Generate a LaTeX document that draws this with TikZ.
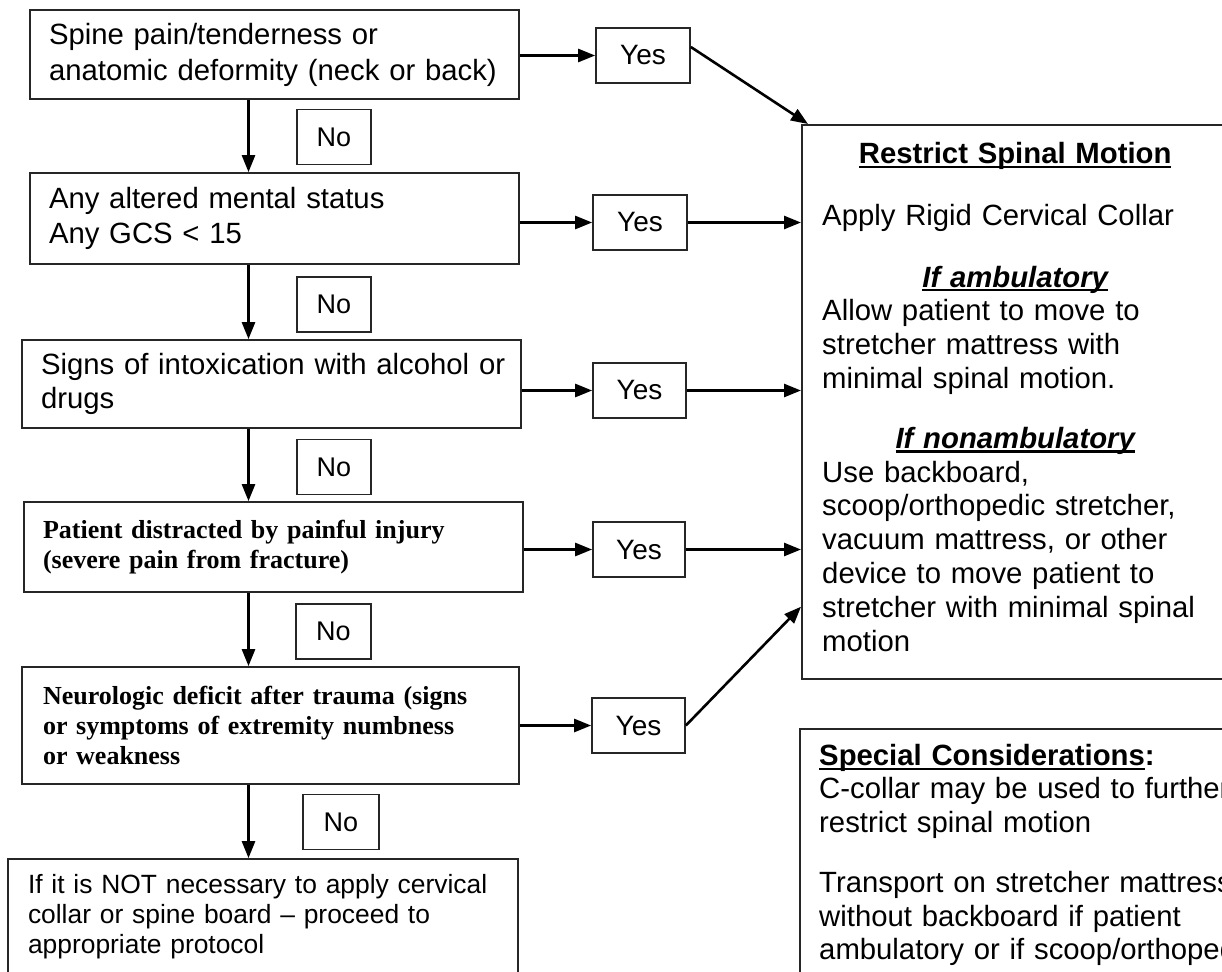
\documentclass[tikz,border=0pt]{standalone}
\usepackage{fontspec}
\setmainfont{Liberation Sans}
\newfontfamily\tnr{Liberation Serif}
\usetikzlibrary{arrows.meta}
\newcommand\myul[1]{\setbox0\hbox{#1}\rlap{\rule[-0.15em]{\wd0}{0.075em}}\box0}
\begin{document}
\begin{tikzpicture}[x=1pt,y=-1pt,
  box/.style={draw=black!85,line width=1.7pt,inner sep=0pt,align=left},
  yn/.style={draw=black!85,line width=1.7pt,inner sep=0pt,minimum height=55pt,font=\fontsize{28}{32}\selectfont},
  arr/.style={line width=2.6pt,-{Triangle[length=17pt,width=13pt]}},
  arial/.style={font=\fontsize{29.3}{34.5}\selectfont},
  times/.style={font=\tnr\bfseries\fontsize{26}{29.5}\selectfont},
  txt/.style={inner sep=0pt,align=left,anchor=north west}
]
\useasboundingbox (0,0) rectangle (1222,971);
\fill[white] (0,0) rectangle (1222,971);
\clip (0,0) rectangle (1222,971);

% left column boxes
\node[box,font=\fontsize{29.3}{36}\selectfont,minimum width=489pt,minimum height=89pt,text width=451pt] (box1) at (274.5,54.5)
  {\mbox{Spine pain/tenderness or}\\\mbox{anatomic deformity (neck or back)}};
\node[box,arial,minimum width=489pt,minimum height=91pt,text width=451pt] (box2) at (274.5,218.5)
  {\mbox{Any altered mental status}\\\mbox{Any GCS < 15}};
\node[box,arial,minimum width=499pt,minimum height=88pt,text width=461pt] (box3) at (271.5,384)
  {\mbox{Signs of intoxication with alcohol or}\\\mbox{drugs}};
\node[box,times,minimum width=499pt,minimum height=90pt,text width=461pt] (box4) at (273.5,547)
  {\mbox{Patient distracted by painful injury}\\\mbox{(severe pain from fracture)}};
\node[box,times,font=\tnr\bfseries\fontsize{26}{30}\selectfont,minimum width=497pt,minimum height=117pt,text width=455pt] (box5) at (270.5,725.5)
  {\mbox{Neurologic deficit after trauma (signs}\\\mbox{or symptoms of extremity numbness}\\\mbox{or weakness}};
\node[box,font=\fontsize{26.4}{30}\selectfont,minimum width=510pt,minimum height=116pt,text width=470pt] (box6) at (263,917)
  {\mbox{If it is NOT necessary to apply cervical}\\\mbox{collar or spine board \textendash{} proceed to}\\\mbox{appropriate protocol}};

% No labels
\node[yn,minimum width=74pt,font=\fontsize{27}{31}\selectfont] (no1) at (334,137) {No};
\node[yn,minimum width=74pt,font=\fontsize{27}{31}\selectfont] (no2) at (334,304.5) {No};
\node[yn,minimum width=74pt,font=\fontsize{27}{31}\selectfont] (no3) at (334,467) {No};
\node[yn,minimum width=75pt,font=\fontsize{27}{31}\selectfont] (no4) at (333.5,631.5) {No};
\node[yn,minimum width=76pt,font=\fontsize{27}{31}\selectfont] (no5) at (341,822) {No};

% Yes labels
\node[yn,minimum width=94pt] (yes1) at (643,55.5) {Yes};
\node[yn,minimum width=94pt] (yes2) at (640,222.5) {Yes};
\node[yn,minimum width=93pt] (yes3) at (639.5,390.5) {Yes};
\node[yn,minimum width=92pt] (yes4) at (639,549.5) {Yes};
\node[yn,minimum width=93pt] (yes5) at (638.5,725.5) {Yes};

% right boxes
\node[box,anchor=north west,minimum width=428pt,minimum height=554pt] (restrict) at (801,124) {};
\node[txt,arial,font=\fontsize{29.3}{33.8}\selectfont,text width=386pt] (rtxt) at (822,142) {%
\makebox[386pt]{\bfseries\myul{Restrict Spinal Motion}}\\[28pt]
Apply Rigid Cervical Collar\\[28pt]
\makebox[386pt]{\bfseries\itshape\myul{If ambulatory}}\\
Allow patient to move to\\
stretcher mattress with\\
minimal spinal motion.\\[26pt]
\makebox[386pt]{\bfseries\itshape\myul{If nonambulatory}}\\
Use backboard,\\
scoop/orthopedic stretcher,\\
vacuum mattress, or other\\
device to move patient to\\
stretcher with minimal spinal\\
motion};

\node[box,anchor=north west,minimum width=450pt,minimum height=290pt] (special) at (799,728) {};
\node[txt,font=\fontsize{29.3}{33.5}\selectfont,text width=520pt] (stxt) at (819,744) {%
{\bfseries\myul{Special Considerations}:}\\
C-collar may be used to further\\
restrict spinal motion\\[27pt]
Transport on stretcher mattress\\
without backboard if patient\\
ambulatory or if scoop/orthopedic};

% vertical arrows
\coordinate (ax) at (248.5,0);
\draw[arr] (box1.south -| ax) -- (box2.north -| ax);
\draw[arr] (box2.south -| ax) -- (box3.north -| ax);
\draw[arr] (box3.south -| ax) -- (box4.north -| ax);
\draw[arr] (box4.south -| ax) -- (box5.north -| ax);
\draw[arr] (box5.south -| ax) -- (box6.north -| ax);

% box -> Yes
\draw[arr] (box1.east |- yes1.west) -- (yes1.west);
\draw[arr] (box2.east |- yes2.west) -- (yes2.west);
\draw[arr] (box3.east |- yes3.west) -- (yes3.west);
\draw[arr] (box4.east |- yes4.west) -- (yes4.west);
\draw[arr] (box5.east |- yes5.west) -- (yes5.west);

% Yes -> restrict
\draw[arr] ([yshift=8.5pt]yes1.east) -- ([xshift=7pt]restrict.north west);
\draw[arr] (yes2.east) -- (yes2.east -| restrict.west);
\draw[arr] (yes3.east) -- (yes3.east -| restrict.west);
\draw[arr] (yes4.east) -- (yes4.east -| restrict.west);
\draw[arr] (yes5.east) -- ([yshift=73pt]restrict.south west);
\end{tikzpicture}
\end{document}
